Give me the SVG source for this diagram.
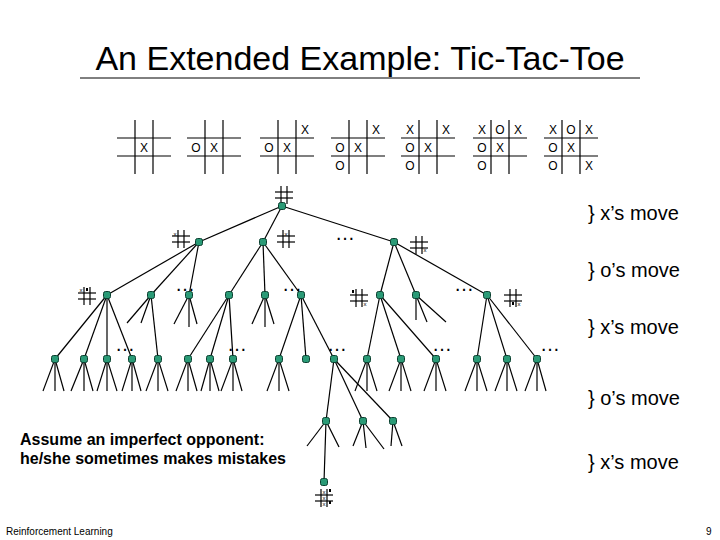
<svg xmlns="http://www.w3.org/2000/svg" xmlns:xlink="http://www.w3.org/1999/xlink" width="720" height="540" viewBox="0 0 720 540">
<style>
text{font-family:"Liberation Sans",Arial,sans-serif;fill:#000}
.g line,.e line{stroke:#000;stroke-width:1.2}
.m{font-size:12px;text-anchor:middle}
.n{fill:#2a9a76;stroke:#0b4030;stroke-width:1}
.b{font-size:20px}
.t{font-size:6px;text-anchor:middle}
</style>
<defs>
<g id="grid" class="g"><line x1="18" y1="0" x2="18" y2="54"/><line x1="36" y1="0" x2="36" y2="54"/><line x1="0" y1="18" x2="54" y2="18"/><line x1="0" y1="36" x2="54" y2="36"/></g>
<g id="tg"><line x1="6" y1="0" x2="6" y2="18" stroke="#000" stroke-width="1.2"/><line x1="12" y1="0" x2="12" y2="18" stroke="#000" stroke-width="1.2"/><line x1="0" y1="6" x2="18" y2="6" stroke="#000" stroke-width="1.2"/><line x1="0" y1="12" x2="18" y2="12" stroke="#000" stroke-width="1.2"/></g>
<rect id="nd" class="n" x="-3.5" y="-3.5" width="7" height="7" rx="2"/>
</defs>
<rect width="720" height="540" fill="#fff"/>
<text x="360" y="70" font-size="34" text-anchor="middle">An Extended Example: Tic-Tac-Toe</text>
<line x1="80" y1="78" x2="640" y2="78" stroke="#000" stroke-width="1"/>
<g id="boards">
<g transform="translate(117,120)"><use href="#grid"/><text class="m" x="27" y="32">X</text></g>
<g transform="translate(187,120)"><use href="#grid"/><text class="m" x="9" y="32">O</text><text class="m" x="27" y="32">X</text></g>
<g transform="translate(260,120)"><use href="#grid"/><text class="m" x="9" y="32">O</text><text class="m" x="27" y="32">X</text><text class="m" x="45" y="14">X</text></g>
<g transform="translate(331,120)"><use href="#grid"/><text class="m" x="9" y="32">O</text><text class="m" x="27" y="32">X</text><text class="m" x="45" y="14">X</text><text class="m" x="9" y="50">O</text></g>
<g transform="translate(401,120)"><use href="#grid"/><text class="m" x="9" y="32">O</text><text class="m" x="27" y="32">X</text><text class="m" x="45" y="14">X</text><text class="m" x="9" y="50">O</text><text class="m" x="9" y="14">X</text></g>
<g transform="translate(473,120)"><use href="#grid"/><text class="m" x="9" y="32">O</text><text class="m" x="27" y="32">X</text><text class="m" x="45" y="14">X</text><text class="m" x="9" y="50">O</text><text class="m" x="9" y="14">X</text><text class="m" x="27" y="14">O</text></g>
<g transform="translate(544,120)"><use href="#grid"/><text class="m" x="9" y="32">O</text><text class="m" x="27" y="32">X</text><text class="m" x="45" y="14">X</text><text class="m" x="9" y="50">O</text><text class="m" x="9" y="14">X</text><text class="m" x="27" y="14">O</text><text class="m" x="45" y="50">X</text></g>
</g>
<g id="icons">
<use href="#tg" x="275" y="186"/>
<use href="#tg" x="172" y="230"/><text class="t" x="175" y="236">x</text>
<use href="#tg" x="277" y="230"/><text class="t" x="286" y="236">x</text>
<use href="#tg" x="410" y="236"/><text class="t" x="425" y="252">x</text>
<use href="#tg" x="78" y="287"/><text class="t" x="81" y="292">x</text><rect x="86" y="288" width="2" height="3"/>
<use href="#tg" x="350" y="289"/><rect x="352" y="290" width="2" height="3"/><text class="t" x="365" y="306">x</text>
<use href="#tg" x="504" y="289"/><rect x="512" y="302" width="2" height="3"/><text class="t" x="519" y="306">x</text>
<use href="#tg" x="315" y="489"/><text class="t" x="324" y="494">x</text><text class="t" x="324" y="500">x</text><text class="t" x="324" y="506">x</text><rect x="329" y="489" width="2" height="3"/><rect x="329" y="501" width="2" height="3"/>
</g>
<g id="connectors" class="e">
<line x1="282" y1="206" x2="199" y2="242"/><line x1="282" y1="206" x2="263" y2="242"/><line x1="282" y1="206" x2="394" y2="242"/>
<line x1="199" y1="242" x2="107" y2="295"/><line x1="199" y1="242" x2="151" y2="295"/><line x1="199" y1="242" x2="189" y2="295"/>
<line x1="263" y1="242" x2="229" y2="295"/><line x1="263" y1="242" x2="265" y2="295"/><line x1="263" y1="242" x2="301" y2="295"/>
<line x1="394" y1="242" x2="380" y2="295"/><line x1="394" y1="242" x2="416" y2="295"/><line x1="394" y1="242" x2="487" y2="295"/>
<line x1="107" y1="295" x2="55" y2="359"/><line x1="107" y1="295" x2="84" y2="359"/><line x1="107" y1="295" x2="107" y2="359"/><line x1="107" y1="295" x2="132" y2="359"/>
<line x1="151" y1="295" x2="127" y2="323"/><line x1="151" y1="295" x2="141" y2="323"/><line x1="151" y1="295" x2="158" y2="359"/>
<line x1="189" y1="295" x2="174" y2="324"/><line x1="189" y1="295" x2="189" y2="327"/><line x1="189" y1="295" x2="197" y2="324"/>
<line x1="229" y1="295" x2="188" y2="359"/><line x1="229" y1="295" x2="210" y2="359"/><line x1="229" y1="295" x2="233" y2="359"/>
<line x1="265" y1="295" x2="252" y2="324"/><line x1="265" y1="295" x2="265" y2="327"/><line x1="265" y1="295" x2="274" y2="324"/>
<line x1="301" y1="295" x2="279" y2="359"/><line x1="301" y1="295" x2="306" y2="359"/><line x1="301" y1="295" x2="334" y2="359"/>
<line x1="380" y1="295" x2="367" y2="359"/><line x1="380" y1="295" x2="401" y2="359"/><line x1="380" y1="295" x2="436" y2="359"/>
<line x1="416" y1="295" x2="416" y2="320"/><line x1="416" y1="295" x2="427" y2="322"/><line x1="416" y1="295" x2="446" y2="322"/>
<line x1="487" y1="295" x2="477" y2="359"/><line x1="487" y1="295" x2="507" y2="359"/><line x1="487" y1="295" x2="537" y2="359"/>
<g id="leaves">
<line x1="55" y1="359" x2="43" y2="391"/><line x1="55" y1="359" x2="55" y2="391"/><line x1="55" y1="359" x2="64" y2="391"/>
<line x1="84" y1="359" x2="71" y2="391"/><line x1="84" y1="359" x2="84" y2="391"/><line x1="84" y1="359" x2="93" y2="391"/>
<line x1="107" y1="359" x2="97" y2="391"/><line x1="107" y1="359" x2="107" y2="391"/><line x1="107" y1="359" x2="117" y2="391"/>
<line x1="132" y1="359" x2="122" y2="391"/><line x1="132" y1="359" x2="132" y2="391"/><line x1="132" y1="359" x2="141" y2="391"/>
<line x1="158" y1="359" x2="146" y2="391"/><line x1="158" y1="359" x2="158" y2="391"/><line x1="158" y1="359" x2="168" y2="391"/>
<line x1="188" y1="359" x2="176" y2="391"/><line x1="188" y1="359" x2="188" y2="391"/><line x1="188" y1="359" x2="197" y2="391"/>
<line x1="210" y1="359" x2="201" y2="391"/><line x1="210" y1="359" x2="210" y2="391"/><line x1="210" y1="359" x2="219" y2="391"/>
<line x1="233" y1="359" x2="221" y2="391"/><line x1="233" y1="359" x2="233" y2="391"/><line x1="233" y1="359" x2="242" y2="391"/>
<line x1="279" y1="359" x2="267" y2="391"/><line x1="279" y1="359" x2="279" y2="391"/><line x1="279" y1="359" x2="289" y2="391"/>
<line x1="367" y1="359" x2="355" y2="391"/><line x1="367" y1="359" x2="367" y2="391"/><line x1="367" y1="359" x2="377" y2="391"/>
<line x1="401" y1="359" x2="389" y2="391"/><line x1="401" y1="359" x2="401" y2="391"/><line x1="401" y1="359" x2="411" y2="391"/>
<line x1="436" y1="359" x2="424" y2="391"/><line x1="436" y1="359" x2="436" y2="391"/><line x1="436" y1="359" x2="446" y2="391"/>
<line x1="477" y1="359" x2="465" y2="391"/><line x1="477" y1="359" x2="477" y2="391"/><line x1="477" y1="359" x2="487" y2="391"/>
<line x1="507" y1="359" x2="495" y2="391"/><line x1="507" y1="359" x2="507" y2="391"/><line x1="507" y1="359" x2="517" y2="391"/>
<line x1="537" y1="359" x2="525" y2="391"/><line x1="537" y1="359" x2="537" y2="391"/><line x1="537" y1="359" x2="546" y2="391"/>
</g>
<line x1="334" y1="359" x2="326" y2="421"/><line x1="334" y1="359" x2="363" y2="421"/><line x1="334" y1="359" x2="393" y2="421"/>
<line x1="326" y1="421" x2="307" y2="446"/><line x1="326" y1="421" x2="339" y2="447"/><line x1="326" y1="421" x2="324" y2="482"/>
<line x1="363" y1="421" x2="353" y2="446"/><line x1="363" y1="421" x2="366" y2="448"/><line x1="363" y1="421" x2="384" y2="449"/>
<line x1="393" y1="421" x2="391" y2="446"/><line x1="393" y1="421" x2="402" y2="446"/>
</g>
<g id="nodes">
<use href="#nd" x="282" y="206"/>
<use href="#nd" x="199" y="242"/><use href="#nd" x="263" y="242"/><use href="#nd" x="394" y="242"/>
<use href="#nd" x="107" y="295"/><use href="#nd" x="151" y="295"/><use href="#nd" x="189" y="295"/><use href="#nd" x="229" y="295"/><use href="#nd" x="265" y="295"/><use href="#nd" x="301" y="295"/><use href="#nd" x="380" y="295"/><use href="#nd" x="416" y="295"/><use href="#nd" x="487" y="295"/>
<use href="#nd" x="55" y="359"/><use href="#nd" x="84" y="359"/><use href="#nd" x="107" y="359"/><use href="#nd" x="132" y="359"/><use href="#nd" x="158" y="359"/><use href="#nd" x="188" y="359"/><use href="#nd" x="210" y="359"/><use href="#nd" x="233" y="359"/><use href="#nd" x="279" y="359"/><use href="#nd" x="306" y="359"/><use href="#nd" x="334" y="359"/><use href="#nd" x="367" y="359"/><use href="#nd" x="401" y="359"/><use href="#nd" x="436" y="359"/><use href="#nd" x="477" y="359"/><use href="#nd" x="507" y="359"/><use href="#nd" x="537" y="359"/>
<use href="#nd" x="326" y="421"/><use href="#nd" x="363" y="421"/><use href="#nd" x="393" y="421"/>
<use href="#nd" x="324" y="482"/>
</g>
<g id="dots" font-size="20">
<text x="335" y="240">…</text><text x="175" y="291">…</text><text x="282" y="291">…</text><text x="454" y="291">…</text>
<text x="115" y="351">…</text><text x="227" y="351">…</text><text x="327" y="351">…</text><text x="432" y="351">…</text><text x="540" y="351">…</text>
</g>
<g id="labels">
<text class="b" x="588" y="220">} x’s move</text>
<text class="b" x="588" y="277">} o’s move</text>
<text class="b" x="588" y="334">} x’s move</text>
<text class="b" x="588" y="405">} o’s move</text>
<text class="b" x="588" y="469">} x’s move</text>
<text x="20" y="445" font-size="16" font-weight="bold">Assume an imperfect opponent:</text>
<text x="20" y="464" font-size="16" font-weight="bold">he/she sometimes makes mistakes</text>
<text x="6" y="535" font-size="10">Reinforcement Learning</text>
<text x="706" y="535" font-size="10">9</text>
</g>
</svg>
